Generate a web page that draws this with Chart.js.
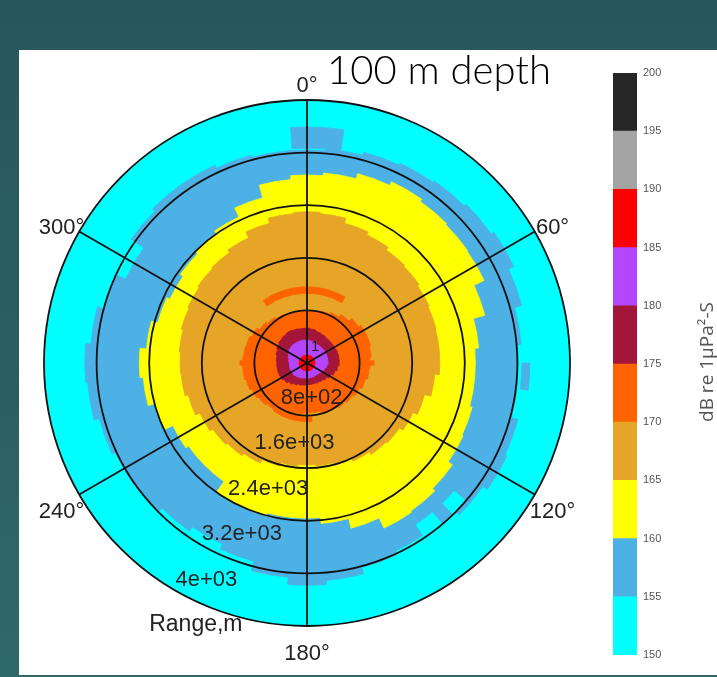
<!DOCTYPE html>
<html>
<head>
<meta charset="utf-8">
<script src="https://cdn.jsdelivr.net/npm/chart.js@4.4.1/dist/chart.umd.min.js"></script>
<style>
  html, body { margin: 0; padding: 0; }
  body {
    width: 717px; height: 677px; overflow: hidden; position: relative;
    background: linear-gradient(180deg, #27575c 0%, #2a5e61 50%, #30696a 100%);
  }
  #panel { position: absolute; left: 19px; top: 50px; width: 698px; height: 625px; background: #ffffff; }
  #polar { position: absolute; left: 0; top: 0; }
  #cbar { position: absolute; left: 600px; top: 60px; }
  #title {
    position: absolute; left: 327px; top: 45px; margin: 0;
    font-family: "Lato", "Open Sans", sans-serif; font-weight: 300;
    font-size: 40px; color: #000; white-space: nowrap;
  }
</style>
</head>
<body>
<div id="panel"></div>
<canvas id="polar" width="717" height="677"></canvas>
<canvas id="cbar" width="117" height="610"></canvas>
<div id="title">100 m depth</div>
<script>
// ---- sound exposure level map, 100 m receiver depth ----
const RANGE_MAX = 4000;                       // m
const rangeTicks = [800, 1600, 2400, 3200, 4000];
const rangeTickLabels = ['8e+02', '1.6e+03', '2.4e+03', '3.2e+03', '4e+03'];
const angleLabels = ['0°', '60°', '120°', '180°', '240°', '300°'];

// colour levels (dB re 1 µPa²·s), lower bound of each band
const levelBands = [150, 155, 160, 165, 170, 175, 180, 185, 190, 195];
const bandColors = ['#00ffff', '#4db1e6', '#ffff00', '#e6a527', '#ff6300',
                    '#a3163a', '#b347ff', '#ff0000', '#a3a3a3', '#262626'];

// bearing bins (deg, clockwise from north), 10 deg wide, centred on the value
const bearings = [0, 10, 20, 30, 40, 50, 60, 70, 80, 90, 100, 110, 120, 130, 140, 150, 160, 170,
                  180, 190, 200, 210, 220, 230, 240, 250, 260, 270, 280, 290, 300, 310, 320, 330, 340, 350];
const BIN_WIDTH = 10;

// range (m) at which the level falls below each threshold, per bearing bin
const edge155 = [3240, 3270, 3320, 3350, 3380, 3420, 3470, 3380, 3270, 3210, 3220, 3320,
                 3350, 3270, 3190, 3160, 3220, 3320, 3380, 3270, 3120, 3040, 3120, 3190,
                 3220, 3270, 3350, 3380, 3300, 3190, 3220, 3270, 3320, 3320, 3270, 3240];
const edge160 = [2860, 2900, 2980, 3040, 3000, 2980, 2970, 2800, 2620, 2560, 2560, 2600,
                 2620, 2700, 2750, 2770, 2600, 2450, 2360, 2360, 2400, 2400, 2200, 2200,
                 2250, 2400, 2500, 2550, 2450, 2350, 2300, 2350, 2400, 2450, 2600, 2800];
const edge165 = [2300, 2280, 2200, 2150, 2100, 2080, 2050, 2030, 2020, 2020, 1950, 1850,
                 1780, 1720, 1700, 1650, 1600, 1570, 1550, 1570, 1620, 1680, 1720, 1750,
                 1800, 1870, 1920, 1930, 1950, 1980, 2000, 2030, 2050, 2100, 2200, 2280];
const edge170 = [800, 800, 820, 850, 900, 960, 1000, 1000, 980, 960, 950, 920,
                 880, 850, 830, 800, 780, 760, 760, 780, 800, 850, 870, 900,
                 930, 960, 980, 980, 970, 960, 930, 880, 850, 820, 800, 800];
const edge175 = [530, 520, 500, 490, 480, 480, 480, 490, 490, 490, 470, 440,
                 400, 370, 350, 340, 330, 330, 330, 340, 350, 370, 400, 430,
                 450, 460, 460, 460, 470, 490, 510, 530, 540, 550, 540, 530];
const edge180 = [350, 340, 330, 320, 320, 320, 320, 320, 320, 320, 300, 280,
                 260, 240, 230, 230, 230, 230, 230, 230, 240, 250, 260, 270,
                 270, 270, 270, 270, 280, 300, 320, 340, 350, 350, 350, 350];
const edge185 = [120, 120, 120, 120, 120, 120, 120, 120, 120, 120, 120, 120,
                 120, 120, 120, 120, 120, 120, 120, 120, 120, 120, 120, 120,
                 120, 120, 120, 120, 120, 120, 120, 120, 120, 120, 120, 120];

// isolated cells: [bearing from, bearing to, range from, range to, band index]
const patches = [
  [-4, 9, 3270, 3590, 1],
  [90, 97, 3270, 3390, 1],
  [295, 305, 3050, 3250, 0],
  [140, 146, 2970, 3190, 0],
  [131, 136, 2970, 3190, 0],
  [325, 30, 1060, 1160, 4],
  [175, 215, 820, 890, 4],
  [268, 272, 960, 1020, 4],
  [88, 92, 960, 1020, 4]
];

const toAngle = b => (b - 90) * Math.PI / 180;

const cellPlugin = {
  id: 'rangeBearingCells',
  beforeDatasetsDraw(chart) {
    const s = chart.scales.r;
    const ctx = chart.ctx;
    const cx = s.xCenter, cy = s.yCenter;
    const rad = v => s.getDistanceFromCenterForValue(Math.min(v, RANGE_MAX));
    function cell(b0, b1, r0, r1, color) {
      if (b1 < b0) b1 += 360;
      ctx.beginPath();
      ctx.arc(cx, cy, rad(r1), toAngle(b0), toAngle(b1));
      if (r0 > 0) ctx.arc(cx, cy, rad(r0), toAngle(b1), toAngle(b0), true);
      else ctx.lineTo(cx, cy);
      ctx.closePath();
      ctx.fillStyle = color;
      ctx.fill();
      ctx.strokeStyle = color;
      ctx.lineWidth = 0.8;
      ctx.stroke();
    }
    ctx.save();
    cell(0, 360, 0, RANGE_MAX, bandColors[0]);
    const edges = [edge155, edge160, edge165, edge170, edge175, edge180, edge185];
    edges.forEach((edge, k) => {
      bearings.forEach((b, i) => cell(b - BIN_WIDTH / 2, b + BIN_WIDTH / 2, 0, edge[i], bandColors[k + 1]));
    });
    patches.forEach(p => cell(p[0], p[1], p[2], p[3], bandColors[p[4]]));
    ctx.restore();
  },
  afterDraw(chart) {
    const s = chart.scales.r;
    const ctx = chart.ctx;
    const cx = s.xCenter, cy = s.yCenter;
    const R = s.drawingArea;
    ctx.save();
    ctx.fillStyle = '#222';
    ctx.font = '22px "Liberation Sans", Arial, sans-serif';
    // bearing labels outside the rim
    ctx.textAlign = 'center';
    ctx.textBaseline = 'alphabetic';
    angleLabels.forEach((t, i) => {
      const p = s.getPointPosition(i, R * 1.078);
      ctx.fillText(t, p.x, p.y + 13);
    });
    // range labels along the 210 deg bearing
    ctx.textAlign = 'left';
    const a = toAngle(210);
    rangeTickLabels.forEach((t, i) => {
      const d = s.getDistanceFromCenterForValue(rangeTicks[i]);
      ctx.fillText(t, cx + d * Math.cos(a), cy + d * Math.sin(a) - 5);
    });
    const dT = s.getDistanceFromCenterForValue(RANGE_MAX + 800);
    ctx.font = '23px "Liberation Sans", Arial, sans-serif';
    ctx.fillText('Range,m', cx + dT * Math.cos(a), cy + dT * Math.sin(a) - 5);
    // source marker
    ctx.font = '15px "Liberation Sans", Arial, sans-serif';
    ctx.fillText('1', cx + 4, cy - 12);
    ctx.restore();
  }
};

new Chart(document.getElementById('polar'), {
  type: 'radar',
  data: { labels: angleLabels, datasets: [] },
  options: {
    responsive: false,
    animation: false,
    devicePixelRatio: 1,
    layout: { padding: { left: 44, top: 100, right: 147, bottom: 51 } },
    plugins: { legend: { display: false }, tooltip: { enabled: false } },
    scales: {
      r: {
        min: 0, max: RANGE_MAX,
        startAngle: 0,
        ticks: { stepSize: 800, display: false },
        grid: { circular: true, color: '#111', lineWidth: 1.8, z: 1 },
        angleLines: { display: true, color: '#111', lineWidth: 1.8 },
        pointLabels: { display: false }
      }
    }
  },
  plugins: [cellPlugin]
});

// ---- colour bar ----
const cbTitlePlugin = {
  id: 'colourbarTitle',
  afterDraw(chart) {
    const ctx = chart.ctx;
    const area = chart.chartArea;
    ctx.save();
    ctx.translate(108, (area.top + area.bottom) / 2 - 2);
    ctx.rotate(-Math.PI / 2);
    ctx.fillStyle = '#555';
    ctx.font = '19px "Open Sans", "Liberation Sans", sans-serif';
    ctx.textAlign = 'center';
    ctx.textBaseline = 'middle';
    ctx.fillText('dB re 1μPa²-S', 0, 0);
    ctx.restore();
  }
};

new Chart(document.getElementById('cbar'), {
  type: 'bar',
  data: {
    labels: [''],
    datasets: levelBands.map((lo, k) => ({
      data: [[lo, lo + 5]],
      backgroundColor: bandColors[k],
      borderWidth: 0,
      barPercentage: 1,
      categoryPercentage: 1
    }))
  },
  options: {
    responsive: false,
    animation: false,
    devicePixelRatio: 1,
    layout: { padding: { left: 13, top: 13, right: 40, bottom: 15 } },
    plugins: { legend: { display: false }, tooltip: { enabled: false } },
    scales: {
      x: { display: false, stacked: true },
      y: {
        position: 'right',
        min: 150, max: 200,
        ticks: { stepSize: 5, color: '#555', padding: 6,
                 font: { size: 11, family: '"Liberation Sans", Arial, sans-serif' } },
        grid: { drawOnChartArea: false, drawTicks: false },
        border: { display: false },
        afterFit(scale) { scale.width = 40; }
      }
    }
  },
  plugins: [cbTitlePlugin]
});
</script>
</body>
</html>
